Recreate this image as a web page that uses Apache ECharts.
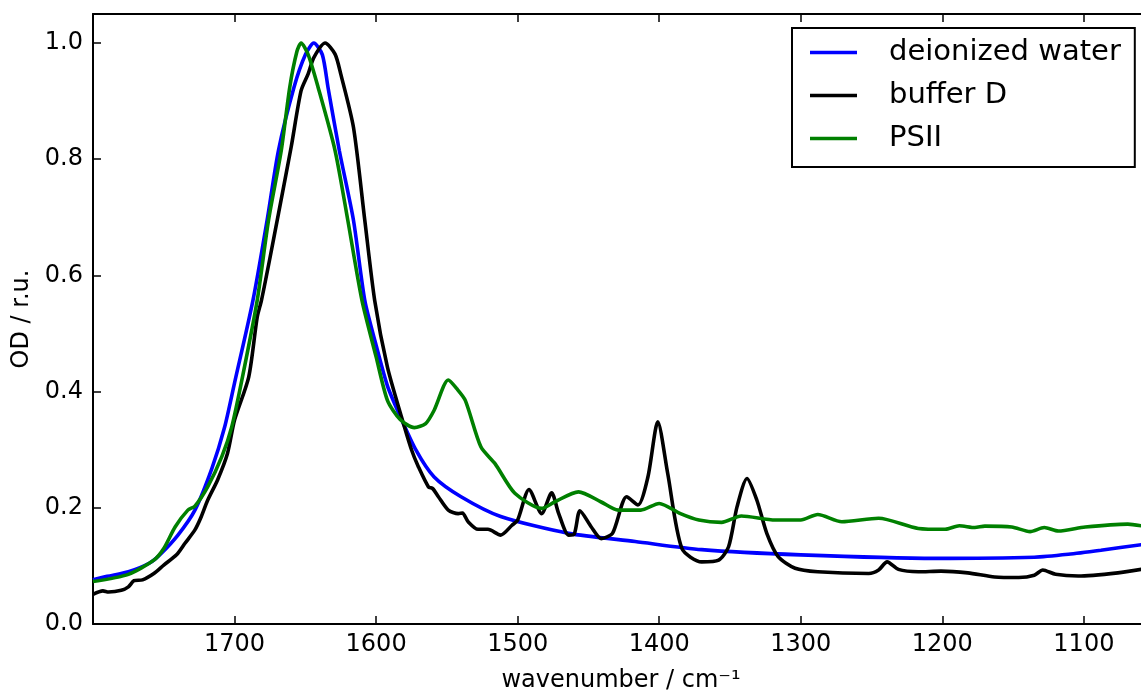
<!DOCTYPE html>
<html>
<head>
<meta charset="utf-8">
<script src="https://cdn.jsdelivr.net/npm/echarts@6/dist/echarts.min.js"></script>
<style>
html,body{margin:0;padding:0;background:#fff;}
#chart{width:1141px;height:693px;}
</style>
</head>
<body>
<div id="chart"></div>
<script>
// ---- data (wavenumber in cm^-1, OD in r.u.) ----
const seriesNames = ['deionized water', 'buffer D', 'PSII'];

const wnWater = [1800,1790,1775,1760,1752,1740,1728,1716,1707,1700,1687,1677,1669,1658,1650,1644,1638,1634,1626,1616,1608,1600,1592,1584,1572,1559,1540,1512,1464,1417,1370,1300,1205,1135,1111,1088,1058];
const odWater = [0.076,0.082,0.090,0.105,0.121,0.153,0.196,0.268,0.339,0.415,0.557,0.695,0.815,0.924,0.980,1.000,0.980,0.924,0.815,0.695,0.557,0.480,0.410,0.363,0.300,0.253,0.219,0.185,0.156,0.142,0.128,0.119,0.113,0.115,0.120,0.127,0.137];

const wnBuffer = [1800,1793,1789,1780,1775,1771,1765,1757,1750,1741,1735,1728,1724,1719,1712,1705,1700,1690,1684,1681,1675,1669,1660,1653,1648,1644,1636,1629,1625,1616,1608,1601,1592,1582,1575,1570,1563,1560,1556,1549,1542,1539,1535,1528,1521,1512,1504,1500,1492,1483,1476,1471,1464,1460,1456,1448,1441,1433,1423,1415,1408,1401,1394,1384,1370,1358,1351,1345,1338,1331,1324,1316,1304,1288,1252,1245,1239,1231,1217,1201,1182,1163,1146,1135,1129,1120,1104,1076,1058];
const odBuffer = [0.051,0.057,0.055,0.058,0.064,0.0745,0.076,0.087,0.1015,0.119,0.139,0.162,0.182,0.213,0.248,0.2935,0.351,0.425,0.528,0.557,0.630,0.706,0.821,0.918,0.947,0.975,1.000,0.981,0.947,0.855,0.695,0.557,0.442,0.356,0.300,0.270,0.236,0.233,0.219,0.196,0.190,0.191,0.176,0.163,0.163,0.153,0.170,0.179,0.2315,0.190,0.226,0.190,0.153,0.155,0.195,0.167,0.147,0.156,0.219,0.205,0.253,0.348,0.259,0.130,0.107,0.110,0.133,0.202,0.2505,0.213,0.156,0.116,0.096,0.090,0.087,0.093,0.107,0.094,0.090,0.091,0.088,0.081,0.080,0.084,0.093,0.0855,0.0825,0.088,0.0946];

const wnPSII = [1800,1775,1757,1750,1742,1733,1728,1719,1709,1702,1694,1684,1676,1667,1661,1656,1653,1648,1641,1629,1620,1610,1600,1592,1583,1573,1565,1559,1549,1543,1537,1526,1516,1502,1483,1474,1457,1441,1429,1413,1400,1385,1372,1356,1342,1318,1300,1288,1271,1245,1217,1198,1188,1177,1170,1151,1138,1128,1118,1099,1069,1058];
const odPSII = [0.073,0.0855,0.110,0.130,0.167,0.196,0.203,0.236,0.288,0.339,0.430,0.557,0.695,0.815,0.924,0.985,1.000,0.980,0.924,0.815,0.695,0.557,0.460,0.385,0.352,0.338,0.345,0.368,0.420,0.405,0.385,0.305,0.276,0.225,0.199,0.210,0.2275,0.210,0.196,0.196,0.2075,0.190,0.179,0.175,0.186,0.179,0.179,0.1885,0.176,0.182,0.1645,0.163,0.169,0.166,0.1685,0.167,0.159,0.166,0.160,0.167,0.172,0.1685];

const xTicks = [1700,1600,1500,1400,1300,1200,1100];
const yTicks = [0.0,0.2,0.4,0.6,0.8,1.0];

const colors = ['#0000ff', '#000000', '#008000'];

function zip(xs, ys){ return xs.map((x,i)=>[x, ys[i]]); }

const font = 'DejaVu Sans';
const chart = echarts.init(document.getElementById('chart'), null, {renderer:'canvas'});

const axisLineStyle = {color:'#000', width:2};

chart.setOption({
  animation: false,
  backgroundColor: '#fff',
  textStyle: {fontFamily: font, color:'#000'},
  grid: {left: 93, right: -8, top: 14, bottom: 69, containLabel: false, outerBoundsMode: 'none'},
  legend: {
    orient: 'vertical',
    left: 792, top: 28,
    data: seriesNames,
    icon: 'rect',
    itemWidth: 47, itemHeight: 3.6,
    itemGap: 10,
    padding: [8, 14, 12, 18],
    borderColor: '#000', borderWidth: 2,
    backgroundColor: '#fff',
    textStyle: {fontFamily: font, fontSize: 29, color:'#000', lineHeight: 33, padding:[0,0,0,27]}
  },
  xAxis: [{
    type: 'value', min: 1054, max: 1800, inverse: true,
    position: 'bottom',
    name: 'wavenumber / cm⁻¹',
    nameLocation: 'middle', nameGap: 45,
    nameTextStyle: {fontFamily: font, fontSize: 24, color:'#000'},
    axisLine: {show: true, onZero: false, lineStyle: axisLineStyle},
    axisTick: {show: true, inside: true, length: 8, lineStyle:{color:'#000', width:1.5}, customValues: xTicks},
    axisLabel: {show: true, fontFamily: font, fontSize: 24, color:'#000', margin: 9, customValues: xTicks,
      formatter: v => String(Math.round(v))},
    splitLine: {show: false}
  },{
    type: 'value', min: 1054, max: 1800, inverse: true,
    position: 'top',
    axisLine: {show: true, onZero: false, lineStyle: axisLineStyle},
    axisTick: {show: true, inside: true, length: 8, lineStyle:{color:'#000', width:1.5}, customValues: xTicks},
    axisLabel: {show: false},
    splitLine: {show: false}
  }],
  yAxis: [{
    type: 'value', min: 0, max: 1.05,
    name: 'OD / r.u.',
    nameLocation: 'middle', nameGap: 54,
    nameTextStyle: {fontFamily: font, fontSize: 24, color:'#000'},
    axisLine: {show: true, onZero: false, lineStyle: axisLineStyle},
    axisTick: {show: true, inside: true, length: 8, lineStyle:{color:'#000', width:1.5}, customValues: yTicks},
    axisLabel: {show: true, fontFamily: font, fontSize: 24, color:'#000', margin: 10, customValues: yTicks,
      formatter: v => Number(v).toFixed(1)},
    splitLine: {show: false}
  }],
  series: [
    {name: seriesNames[0], type:'line', data: zip(wnWater, odWater), showSymbol:false, smooth:0.25,
     lineStyle:{color:colors[0], width:3.6}, itemStyle:{color:colors[0]}, z:2},
    {name: seriesNames[1], type:'line', data: zip(wnBuffer, odBuffer), showSymbol:false, smooth:0.25,
     lineStyle:{color:colors[1], width:3.6}, itemStyle:{color:colors[1]}, z:3},
    {name: seriesNames[2], type:'line', data: zip(wnPSII, odPSII), showSymbol:false, smooth:0.25,
     lineStyle:{color:colors[2], width:3.6}, itemStyle:{color:colors[2]}, z:4}
  ]
});
</script>
</body>
</html>
